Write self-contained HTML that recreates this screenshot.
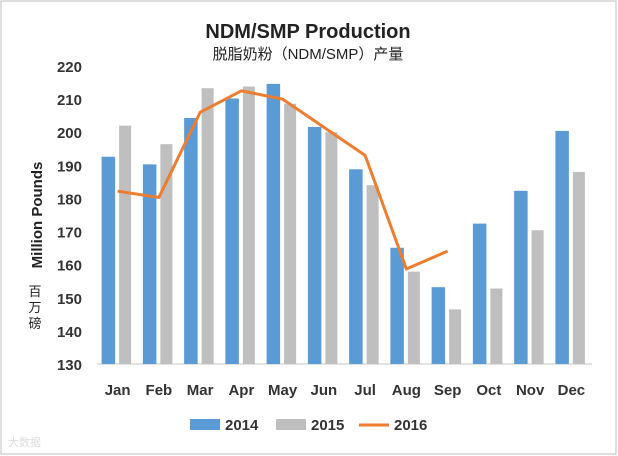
<!DOCTYPE html>
<html><head><meta charset="utf-8"><style>
body{margin:0;background:#fff;}
svg{display:block;font-family:"Liberation Sans","Noto Sans CJK SC",sans-serif;}
</style></head><body>
<svg id="chart" width="618" height="456">
<rect x="1" y="1" width="615" height="453" fill="#fff" stroke="#bfbfbf"/>
<text x="308" y="38" text-anchor="middle" font-size="20" font-weight="bold" fill="#222">NDM/SMP Production</text>
<text x="308" y="59" text-anchor="middle" font-size="15" fill="#222">脱脂奶粉（NDM/SMP）产量</text>
<text transform="translate(42,215) rotate(-90)" text-anchor="middle" font-size="15" font-weight="bold" fill="#222">Million Pounds</text>
<text x="35" y="296" text-anchor="middle" font-size="13" fill="#222"><tspan x="35" dy="0">百</tspan><tspan x="35" dy="16">万</tspan><tspan x="35" dy="16">磅</tspan></text>
<g id="axes"></g>
<g id="bars"></g>
<g id="line"></g>
<g>
<rect x="190" y="419" width="30" height="11" fill="#5b9bd5"/>
<text x="225" y="430" font-size="15" font-weight="bold" fill="#333">2014</text>
<rect x="276" y="419" width="30" height="11" fill="#bfbfbf"/>
<text x="311" y="430" font-size="15" font-weight="bold" fill="#333">2015</text>
<line x1="359" y1="425" x2="389" y2="425" stroke="#ed7d31" stroke-width="3"/>
<text x="394" y="430" font-size="15" font-weight="bold" fill="#333">2016</text>
</g>
<text x="8" y="446" font-size="11" fill="#ddd">大数据</text>
</svg>
<script>
const categories=["Jan","Feb","Mar","Apr","May","Jun","Jul","Aug","Sep","Oct","Nov","Dec"];
const values2014=[192.6,190.3,204.3,210.2,214.6,201.6,188.8,165.1,153.2,172.4,182.3,200.4];
const values2015=[202,196.4,213.3,213.8,208.6,200,184,157.9,146.5,152.8,170.4,188];
const values2016=[182.2,180.3,206,212.5,210,201.5,193,158.7,164.1];
const yTicks=[130,140,150,160,170,180,190,200,210,220];
const NS="http://www.w3.org/2000/svg";
const x0=97,step=41.25,yBase=364,yMin=130,yMax=220,yTop=66;
function xc(i){return x0+step*(i+0.5);}
function y(v){return yBase-(v-yMin)/(yMax-yMin)*(yBase-yTop);}
function mk(tag,attrs,parent){const e=document.createElementNS(NS,tag);for(const k in attrs)e.setAttribute(k,attrs[k]);parent.appendChild(e);return e;}
const axes=document.getElementById('axes'),bars=document.getElementById('bars'),line=document.getElementById('line');
yTicks.forEach(t=>{const e=mk('text',{x:82,y:y(t)+6,'text-anchor':'end','font-size':15,'font-weight':'bold',fill:'#333'},axes);e.textContent=t;

});
const base=mk('line',{x1:x0,x2:x0+step*12,y1:yBase,y2:yBase,stroke:'#d9d9d9','stroke-width':1.5},axes);


categories.forEach((c,i)=>{const e=mk('text',{x:xc(i),y:395,'text-anchor':'middle','font-size':15,'font-weight':'bold',fill:'#333'},axes);e.textContent=c;


const b1=mk('rect',{x:xc(i)-16,y:y(values2014[i]),width:13.5,height:yBase-y(values2014[i]),fill:'#5b9bd5'},bars);


const b2=mk('rect',{x:xc(i)+1.5,y:y(values2015[i]),width:12,height:yBase-y(values2015[i]),fill:'#bfbfbf'},bars);

});
const pts=values2016.map((v,i)=>xc(i)+','+y(v)).join(' ');
const pl=mk('polyline',{points:pts,fill:'none',stroke:'#ed7d31','stroke-width':3,'stroke-linejoin':'round'},line);


</script>
</body></html>
